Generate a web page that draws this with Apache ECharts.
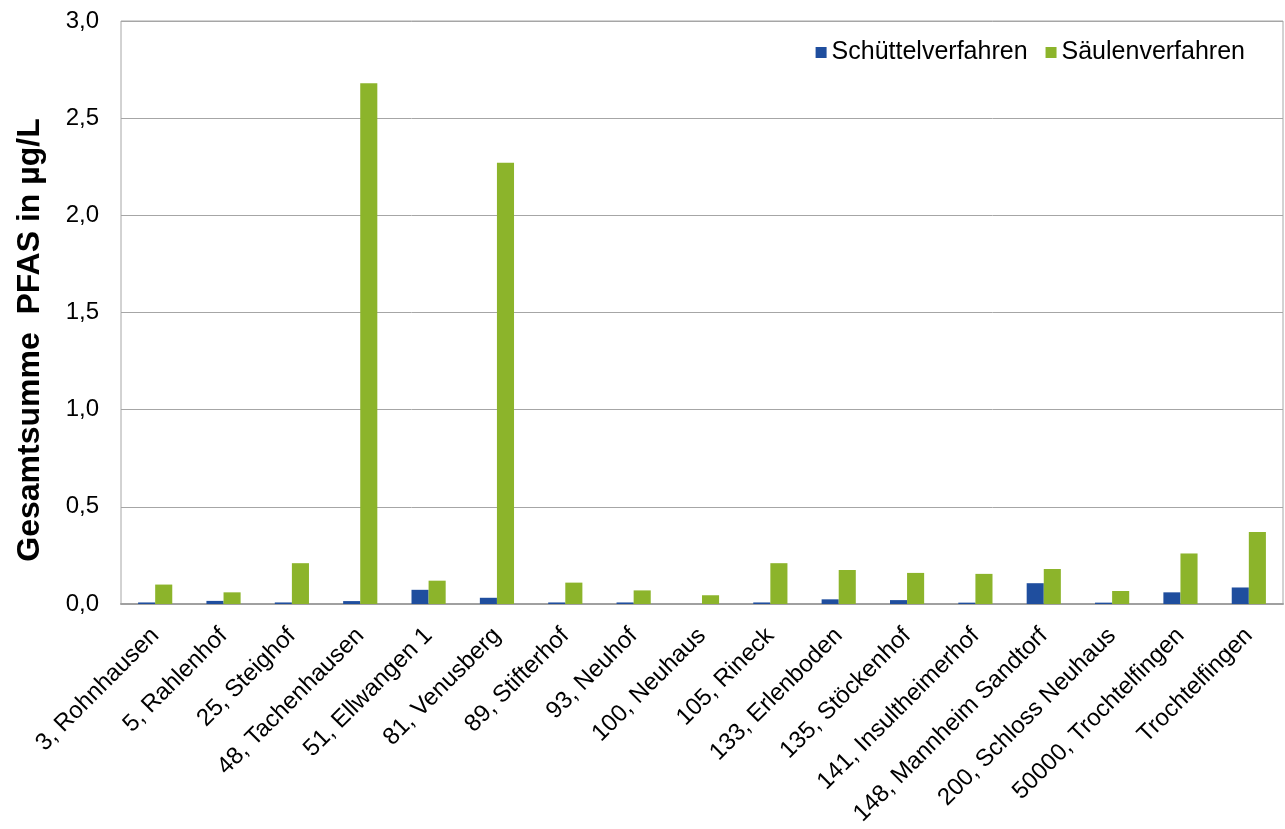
<!DOCTYPE html>
<html>
<head>
<meta charset="utf-8">
<title>PFAS Gesamtsumme</title>
<script src="https://cdn.jsdelivr.net/npm/echarts@6/dist/echarts.min.js"></script>
<style>
  html, body { margin: 0; padding: 0; background: #ffffff; }
  #chart { width: 1285px; height: 829px; }
</style>
</head>
<body>
<div id="chart"></div>
<script>
// Probenahmestellen (Nummer, Standort)
const categories = [
  '3, Rohnhausen', '5, Rahlenhof', '25, Steighof', '48, Tachenhausen',
  '51, Ellwangen 1', '81, Venusberg', '89, Stifterhof', '93, Neuhof',
  '100, Neuhaus', '105, Rineck', '133, Erlenboden', '135, Stöckenhof',
  '141, Insultheimerhof', '148, Mannheim Sandtorf', '200, Schloss Neuhaus',
  '50000, Trochtelfingen', 'Trochtelfingen'
];

// Gesamtsumme PFAS in µg/L je Verfahren
const schuettelValues = [0.008, 0.016, 0.008, 0.015, 0.073, 0.032, 0.008, 0.008,
  0.0, 0.008, 0.024, 0.02, 0.007, 0.107, 0.007, 0.06, 0.085];
const saeulenValues = [0.10, 0.06, 0.21, 2.68, 0.12, 2.27, 0.11, 0.07,
  0.045, 0.21, 0.175, 0.16, 0.155, 0.18, 0.067, 0.26, 0.37];

const yTicks = { min: 0, max: 3, interval: 0.5 };
const yTitle = 'Gesamtsumme  PFAS in µg/L';

const fontFamily = '"Liberation Sans", Arial, sans-serif';
const chart = echarts.init(document.getElementById('chart'), null, { renderer: 'canvas' });

chart.setOption({
  backgroundColor: '#ffffff',
  animation: false,
  grid: {
    left: 121, right: 2, top: 21, bottom: 225,
    show: true, borderColor: '#a6a6a6', borderWidth: 1
  },
  legend: {
    right: 35, top: 35,
    itemWidth: 11, itemHeight: 11, itemGap: 18,
    icon: 'rect',
    textStyle: { fontFamily, fontSize: 25, color: '#000' },
    data: ['Schüttelverfahren', 'Säulenverfahren']
  },
  // vertical value-axis title, set slightly below the plot's middle
  graphic: [{
    type: 'text',
    x: 30, y: 340,
    rotation: Math.PI / 2,
    style: {
      text: yTitle,
      font: 'bold 32px "Liberation Sans", Arial, sans-serif',
      fill: '#000',
      align: 'center',
      verticalAlign: 'middle'
    }
  }],
  xAxis: {
    type: 'category',
    data: categories,
    axisTick: { show: false },
    axisLine: { lineStyle: { color: '#a0a0a0', width: 2 } },
    axisLabel: {
      interval: 0, rotate: 45, margin: 28,
      fontFamily, fontSize: 24, color: '#000'
    }
  },
  yAxis: {
    type: 'value',
    min: yTicks.min, max: yTicks.max, interval: yTicks.interval,
    axisLine: { show: false },
    axisTick: { show: false },
    splitLine: { lineStyle: { color: '#a6a6a6', width: 1 } },
    axisLabel: {
      fontFamily, fontSize: 24, color: '#000', margin: 22,
      formatter: v => v.toFixed(1).replace('.', ',')
    }
  },
  series: [
    {
      name: 'Schüttelverfahren', type: 'bar', data: schuettelValues,
      itemStyle: { color: '#1f4e9e' },
      barGap: '0%', barCategoryGap: '50%'
    },
    {
      name: 'Säulenverfahren', type: 'bar', data: saeulenValues,
      itemStyle: { color: '#8cb42b' },
      barGap: '0%', barCategoryGap: '50%'
    }
  ]
});
</script>
</body>
</html>
